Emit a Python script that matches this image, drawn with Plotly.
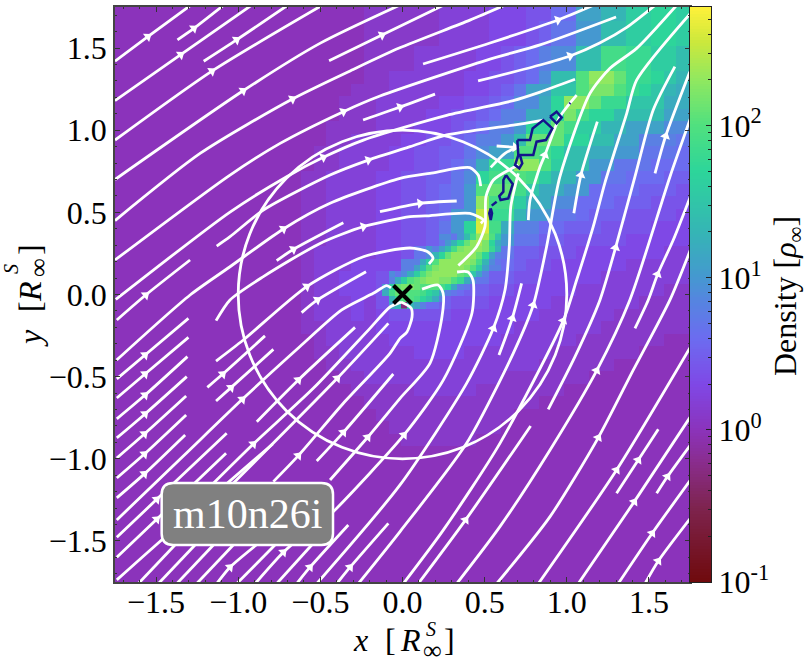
import math
import numpy as np
import plotly.graph_objects as go

W, H = 810, 665
AX_L, AX_R, AX_T, AX_B = 115, 690, 7, 582
CB_R = 711
XY_RANGE = [-1.75, 1.75]
LOG_MIN, LOG_MAX = -1.0, 2.78

# log10(density) colour ramp
RAMP = [(-1.0, "#6f0a0c"), (-0.5, "#7e2450"), (-0.2, "#8a2d90"), (0.0, "#8b33bb"), (0.3, "#7f48e6"),
        (0.6, "#6c6cf0"), (0.85, "#5585e0"), (1.0, "#4598d0"), (1.3, "#35b5b5"), (1.7, "#2dd59a"),
        (2.0, "#50e07f"), (2.3, "#90e860"), (2.55, "#cce83c"), (2.78, "#fff13a")]

# Density cells, one character per cell: base-36 digit = 10*log10(rho); '.' = empty; '-' = under-dense
CELL = 0.0761
GRID_X0, GRID_Y0 = -1.759, 1.817
DENSITY_ROWS = [
    "0000000000 0000000000 1111112222 3334466bbd dgghhgg",
    "0000000000 0000000000 1111112222 3334466bbd dgghhgg",
    "0000000000 0000000000 1111112222 3334577aae egghhgg",
    "0000000000 0000000000 1111112222 3334577aae egghhgg",
    "0000000000 0000000000 1111222223 3456899eej jiiggee",
    "0000000000 0000000000 1111222223 3456899eej jiiggee",
    "0000000000 0000000000 1122222233 44569eeknn liihfdd",
    "0000000000 0000000001 1122222233 457bbffkmm kihfdcc",
    "0000000000 0000000011 1222223344 5699chnnli ifffccb",
    "0000000000 0000000011 1222233445 688cchmjhh eeeebbb",
    "0000000000 0000000111 1222333456 88ahhljggd dbbb999",
    "0000000000 0000000112 2223344568 8aelllhhee bb88877",
    "0000000000 0000001122 2233445579 bbkkjheecc aa77766",
    "0000000000 0000001122 223344568c iinnkgeeaa 7776665",
    "0000000000 0000011222 233445579h jkkjgddaa7 7666555",
    "0000000000 0000011222 23344567ak lljfccaa66 6655544",
    "0000000000 0000011222 23344567an jjgcc99666 5554444",
    "0000000000 0000011222 2334456aap iidaa77655 5444433",
    "0000000000 0000011222 2334457ahq jc88665554 4443333",
    "0000000000 0000011222 2334459dmn da77554444 4333333",
    "0000000000 0000012222 23347aelni a755444333 3333222",
    "0000000000 0000012223 3338cknmme 8654433333 3222222",
    "0000000000 0000012233 349jmnlgc7 5544333332 2222221",
    "0000000000 0000012233 34ekjf8655 4433333222 2222111",
    "0000000000 0000012223 24dfb65444 3333322222 2211111",
    "0000000000 0000012223 2344444333 3333222222 1111111",
    "0000000000 0000011222 2333333333 3322222221 1111110",
    "0000000000 0000001222 2233333333 3222222111 1111000",
    "0000000000 0000001122 2222333322 2222211111 1100000",
    "0000000000 0000000112 2222222222 2222111111 0000000",
    "0000000000 0000000011 2222222222 2111111100 0000000",
    "0000000000 0000000001 1111222221 1111110000 0000000",
    "0000000000 0000000000 1111111111 1111000000 0000000",
    "0000000000 0000000000 0111111111 1100000000 0000000",
    "0000000000 0000000000 0011111111 1000000000 0000000",
    "0000000000 0000000000 0001111110 0000000000 0000000",
    "0000000000 0000000000 0000000000 0000000000 0000000",
    "0000000000 0000000000 0000000000 0000000000 0000000",
    "0000000000 0000000000 0000000000 0000000000 0000000",
    "0000000000 0000000000 0000000000 0000000000 0000000",
    "0000000000 0000000000 0000000000 0000000000 0000000",
    "0000000000 0000000000 0000000000 0000000000 0000000",
    "0000000000 0000000000 0000000000 0000000000 0000000",
    "0000000000 0000000000 0000000000 0000000000 0000000",
    "0000000000 0000000000 0000000000 0000000000 0000000",
    "0000000000 0000000000 0000000000 0000000000 0000000",
    "0000000000 0000000000 0000000000 0000000000 0000000",
]
# Finer cells along the inner ridge (half the cell size)
FINE_COL0, FINE_ROW0 = 21, 19
FINE_ROWS = [
    "............7aejnokf",
    "..........7adhlnomhc",
    ".........8bejmnnnmid",
    ".......79dhlnnnnlhb8",
    "......8cgknnnnnmjd97",
    ".....8bfkmnnnnmkgb8.",
    "...79cgkmnnnnlkfb8..",
    "..8cgklmnnmmkic97...",
    ".aglmmlkkkjhc87.....",
    ".cjlkkkjhfb87.......",
    "..dikkjhfc8.........",
    "..bd-db8............",
]

# Streamlines: (arrow vertex or None, [(x, y), ...]) in units of R_inf^S
STREAMS = [
    (1, [(-1.75, 1.42), (-1.55, 1.57), (-1.29, 1.76)]),
    (1, [(-1.37, 1.55), (-1.27, 1.62), (-1.09, 1.76)]),
    (1, [(-1.75, 1.18), (-1.35, 1.46), (-0.92, 1.76)]),
    (1, [(-1.21, 1.42), (-1.01, 1.55), (-0.70, 1.76)]),
    (1, [(-1.75, 0.94), (-1.16, 1.36), (-0.49, 1.76)]),
    (1, [(-1.75, 0.70), (-0.97, 1.24), (-0.50, 1.53), (-0.02, 1.76)]),
    (2, [(-1.75, 0.45), (-1.23, 0.86), (-0.67, 1.19), (-0.30, 1.37), (-0.02, 1.50), (0.41, 1.67), (0.62, 1.76)]),
    (1, [(-0.447, 1.423), (-0.125, 1.579), (0.247, 1.76)]),
    (3, [(-1.75, 0.21), (-1.05, 0.727), (-0.745, 0.92), (-0.36, 1.113), (-0.137, 1.208), (0.514, 1.427), (0.837, 1.519), (1.30, 1.689)]),
    (1, [(-0.24, 1.062), (-0.015, 1.141), (0.198, 1.22)]),
    (2, [(0.125, 1.403), (0.533, 1.531), (0.946, 1.671), (1.16, 1.76)]),
    (2, [(0.46, 1.30), (0.837, 1.397), (1.02, 1.452), (1.20, 1.531), (1.367, 1.628), (1.537, 1.76)]),
    (3, [(-1.745, -0.03), (-1.05, 0.502), (-0.705, 0.717), (-0.482, 0.835), (-0.238, 0.94), (0.269, 1.09), (0.674, 1.18), (0.837, 1.232), (1.05, 1.31)]),
    (4, [(-1.131, 0.295), (-1.05, 0.352), (-0.847, 0.514), (-0.441, 0.727), (-0.208, 0.818), (0.046, 0.90), (0.269, 0.971), (0.674, 1.031), (0.857, 1.062)]),
    (3, [(-1.74, -0.399), (-1.293, -0.003), (-1.05, 0.169), (-0.725, 0.399), (-0.441, 0.555), (-0.015, 0.707), (0.167, 0.738), (0.41, 0.772), (0.461, 0.727), (0.476, 0.66)]),
    (4, [(-1.135, -0.159), (-1.05, -0.033), (-0.847, 0.109), (-0.502, 0.311), (-0.238, 0.413), (0.046, 0.474), (0.137, 0.478), (0.41, 0.494), (0.492, 0.453), (0.477, 0.433)]),
    (1, [(-0.137, 0.504), (0.106, 0.555), (0.33, 0.569)]),
    (2, [(-1.135, -0.405), (-0.969, -0.277), (-0.583, 0.048), (-0.238, 0.23), (0.046, 0.283), (0.155, 0.259), (0.186, 0.222), (0.161, 0.186)]),
    (1, [(-0.766, 0.206), (-0.664, 0.275), (-0.36, 0.437)]),
    (1, [(-0.614, -0.11), (-0.518, -0.033), (-0.222, 0.139)]),
    (2, [(-1.739, -1.372), (-1.334, -0.983), (-0.975, -0.638), (-0.624, -0.317), (-0.37, -0.094), (-0.178, 0.007), (-0.096, 0.054), (-0.07, 0.04)]),
    (1, [(-0.887, -0.774), (-0.634, -0.52), (-0.289, -0.2)]),
    (None, [(-1.739, -1.737), (-1.466, -1.494), (-0.79, -0.91)]),
    (1, [(-1.739, -1.478), (-1.496, -1.247), (-1.07, -0.845)]),
    (1, [(-1.739, -1.599), (-1.496, -1.368), (-1.074, -0.967)]),
    (1, [(-1.739, -0.514), (-1.567, -0.368), (-1.303, -0.145)]),
    (1, [(-1.739, -0.63), (-1.567, -0.484), (-1.303, -0.261)]),
    (1, [(-1.739, -0.757), (-1.567, -0.612), (-1.309, -0.378)]),
    (1, [(-1.739, -0.873), (-1.567, -0.727), (-1.313, -0.50)]),
    (1, [(-1.739, -0.995), (-1.571, -0.849), (-1.317, -0.618)]),
    (1, [(-1.739, -1.117), (-1.571, -0.971), (-1.317, -0.733)]),
    (1, [(-1.739, -1.238), (-1.571, -1.092), (-1.323, -0.855)]),
    (1, [(-1.739, -0.155), (-1.563, -0.003), (-1.293, 0.21)]),
    (1, [(-1.188, -0.565), (-1.094, -0.484), (-0.837, -0.252)]),
    (1, [(-1.135, -0.648), (-1.044, -0.567), (-0.786, -0.334)]),
    (1, [(-0.644, -1.76), (-0.563, -1.66), (-0.33, -1.403)]),
    (1, [(-0.40, -1.76), (-0.319, -1.66), (-0.086, -1.393)]),
    (None, [(-1.608, -1.76), (-1.375, -1.514)]),
    (None, [(-1.486, -1.76), (-1.253, -1.514)]),
    (None, [(-1.374, -1.76), (-1.141, -1.514)]),
    (None, [(-1.253, -1.76), (-1.02, -1.514)]),
    (1, [(-1.131, -1.76), (-1.05, -1.66), (-0.877, -1.514)]),
    (None, [(-1.009, -1.76), (-0.766, -1.514)]),
    (1, [(-0.897, -1.76), (-0.725, -1.569), (-0.522, -1.393)]),
    (None, [(-0.766, -1.76), (-0.543, -1.514)]),
    (1, [(-1.05, -1.169), (-0.397, -0.51), (-0.086, -0.176)]),
    (1, [(-0.786, -1.139), (-0.634, -0.981), (-0.36, -0.662), (-0.076, -0.358), (-0.015, -0.267), (0.027, -0.228), (0.058, -0.137), (0.052, -0.082), (-0.009, -0.046)]),
    (1, [(-1.151, -1.149), (-0.908, -0.91), (-0.543, -0.571), (-0.198, -0.206), (-0.076, -0.076), (-0.009, -0.046)]),
    (1, [(-0.522, -1.013), (-0.36, -0.839), (-0.056, -0.484)]),
    (1, [(-0.441, -1.129), (-0.212, -0.869), (-0.015, -0.632), (0.167, -0.419), (0.24, -0.137), (0.247, 0.009), (0.216, 0.058), (0.119, 0.033)]),
    (2, [(-0.624, -1.514), (-0.41, -1.311), (0.009, -0.855), (0.249, -0.52), (0.423, -0.113), (0.429, 0.088), (0.399, 0.137), (0.332, 0.137)]),
    (3, [(-0.522, -1.76), (-0.015, -1.159), (0.39, -0.541), (0.553, -0.206), (0.624, 0.027), (0.65, 0.291), (0.659, 0.534), (0.705, 0.737)]),
    (1, [(0.587, -0.368), (0.668, -0.145), (0.725, 0.068)]),
    (4, [(-0.269, -1.76), (-0.015, -1.443), (0.39, -0.906), (0.674, -0.358), (0.796, -0.064), (0.877, 0.291), (0.958, 0.717), (1.141, 1.224), (1.263, 1.377), (1.425, 1.498), (1.668, 1.76)]),
    (3, [(0.766, 0.453), (0.776, 0.575), (0.837, 0.778), (0.867, 0.849), (0.958, 1.082), (1.06, 1.214)]),
    (3, [(0.005, -1.76), (0.249, -1.433), (0.593, -0.906), (0.979, -0.159), (1.06, 0.088), (1.161, 0.413), (1.232, 0.68), (1.365, 1.103), (1.425, 1.305), (1.76, 1.72)]),
    (3, [(0.887, -0.699), (1.05, -0.378), (1.202, -0.033), (1.297, 0.285), (1.415, 0.717), (1.526, 1.123), (1.658, 1.387)]),
    (3, [(0.33, -1.76), (0.593, -1.413), (0.898, -0.946), (1.182, -0.463), (1.384, -0.033), (1.628, 0.717), (1.76, 1.092)]),
    (2, [(1.415, -0.206), (1.496, -0.033), (1.553, 0.123), (1.648, 0.332), (1.76, 0.616)]),
    (2, [(0.573, -1.76), (0.898, -1.352), (1.192, -0.871), (1.405, -0.459), (1.628, -0.033), (1.76, 0.291)]),
    (1, [(0.827, -1.76), (1.303, -1.068), (1.76, -0.307)]),
    (1, [(1.303, -1.21), (1.435, -1.007), (1.557, -0.82)]),
    (1, [(1.547, -1.21), (1.613, -1.108), (1.76, -0.906)]),
    (1, [(1.07, -1.76), (1.411, -1.261), (1.76, -0.733)]),
    (1, [(1.313, -1.76), (1.52, -1.453), (1.76, -1.119)]),
    (1, [(1.476, -1.76), (1.557, -1.622), (1.76, -1.352)]),
    (1, [(0.096, -1.76), (0.384, -1.372), (0.78, -0.80)]),
    (1, [(1.043, 0.494), (1.086, 0.727), (1.186, 1.052)]),
    (1, [(1.537, 0.737), (1.602, 0.965), (1.749, 1.356)]),
    (None, [(0.34, 0.176), (0.451, 0.291), (0.502, 0.413), (0.508, 0.596), (0.553, 0.697), (0.705, 0.788)]),
    (None, [(0.537, 0.774), (0.624, 0.859), (0.695, 0.896)]),
    (1, [(0.573, 0.904), (0.685, 0.896)]),
]

# High-density contours
CONTOURS = [
    [(0.699, 0.94), (0.776, 0.94), (0.792, 1.011), (0.857, 1.062), (0.912, 1.011), (0.873, 0.94), (0.816, 0.93), (0.796, 0.849), (0.705, 0.849), (0.699, 0.94)],
    [(0.705, 0.849), (0.685, 0.788), (0.711, 0.768), (0.729, 0.798), (0.715, 0.849)],
    [(0.898, 1.082), (0.938, 1.113), (0.969, 1.078), (0.938, 1.042), (0.898, 1.082)],
    [(0.63, 0.727), (0.671, 0.672), (0.644, 0.585), (0.597, 0.575), (0.589, 0.599), (0.614, 0.626), (0.614, 0.697), (0.63, 0.727)],
    [(0.573, 0.565), (0.543, 0.541)],
    [(0.537, 0.524), (0.528, 0.494), (0.537, 0.453), (0.545, 0.494), (0.537, 0.524)],
    [(1.016, 1.16), (1.022, 1.166)],
]
BH_X, BH_Y = [0.0], [0.0]
SONIC_RADIUS = 1.0
LABEL = "m10n26i"
LABEL_BOX = (-1.466, -0.423, -1.525, -1.147)
TICKS = [-1.5, -1.0, -0.5, 0.0, 0.5, 1.0, 1.5]
CB_TICKS = [-1, 0, 1, 2]
CB_TEXT = ["10<sup>-1</sup>", "10<sup>0</sup>", "10<sup>1</sup>", "10<sup>2</sup>"]


def decode(row):
    out = []
    for c in row.replace(" ", ""):
        if c == ".":
            out.append(None)
        elif c == "-":
            out.append(-0.3)
        else:
            out.append(int(c, 36) * 0.1)
    return out


def px(x):
    return x / W


def py(y):
    return 1 - y / H


colorscale = [[(v - LOG_MIN) / (LOG_MAX - LOG_MIN), c] for v, c in RAMP]
cmap = dict(colorscale=colorscale, zmin=LOG_MIN, zmax=LOG_MAX, showscale=False, hoverinfo="skip")

fig = go.Figure()
z = [decode(r) for r in DENSITY_ROWS]
fig.add_trace(go.Heatmap(z=z,
                         x=[GRID_X0 + CELL * (i + 0.5) for i in range(len(z[0]))],
                         y=[GRID_Y0 - CELL * (j + 0.5) for j in range(len(z))], **cmap))
zf = [decode(r) for r in FINE_ROWS]
fig.add_trace(go.Heatmap(z=zf,
                         x=[GRID_X0 + CELL * FINE_COL0 + CELL / 2 * (i + 0.5) for i in range(len(zf[0]))],
                         y=[GRID_Y0 - CELL * FINE_ROW0 - CELL / 2 * (j + 0.5) for j in range(len(zf))], **cmap))

sx, sy, ax, ay, aa = [], [], [], [], []
for idx, pts in STREAMS:
    sx += [p[0] for p in pts] + [None]
    sy += [p[1] for p in pts] + [None]
    if idx is not None:
        a, b = pts[max(idx - 1, 0)], pts[min(idx + 1, len(pts) - 1)]
        ax.append(pts[idx][0])
        ay.append(pts[idx][1])
        aa.append(math.degrees(math.atan2(b[0] - a[0], b[1] - a[1])))
fig.add_trace(go.Scatter(x=sx, y=sy, mode="lines", hoverinfo="skip",
                         line=dict(color="white", width=2.8, shape="spline", smoothing=0.7)))
fig.add_trace(go.Scatter(x=ax, y=ay, mode="markers", hoverinfo="skip",
                         marker=dict(symbol="triangle-up", size=9, color="white", angle=aa)))
cx, cy = [], []
for c in CONTOURS:
    cx += [p[0] for p in c] + [None]
    cy += [p[1] for p in c] + [None]
fig.add_trace(go.Scatter(x=cx, y=cy, mode="lines", hoverinfo="skip", line=dict(color="#14148c", width=2.5)))
fig.add_trace(go.Scatter(x=BH_X, y=BH_Y, mode="markers", hoverinfo="skip",
                         marker=dict(symbol="x-thin", size=18, line=dict(color="black", width=4))))

# Colour bar drawn on its own axes so that it can carry log minor ticks
cb_levels = np.linspace(LOG_MIN, LOG_MAX, 200)
fig.add_trace(go.Heatmap(z=[[v] for v in cb_levels], x=[0], y=cb_levels, xaxis="x2", yaxis="y2", **cmap))
minor_vals = [k + math.log10(m) for k in range(-1, 3) for m in range(2, 10)]
minor_vals = [v for v in minor_vals if v < LOG_MAX]

SERIF = "Liberation Serif"
axis_common = dict(range=XY_RANGE, showgrid=False, zeroline=False, showline=True, linecolor="#444444",
                   linewidth=1.5, mirror="ticks", ticks="inside", ticklen=5, tickwidth=1, tickcolor="#333333",
                   tickvals=TICKS, tickformat=".1f", tickfont=dict(family=SERIF, size=32, color="black"),
                   minor=dict(ticks="inside", ticklen=2.5, dtick=0.1, tick0=0, tickwidth=1, tickcolor="#333333", showgrid=False))


def note(text, x, y, size=32, angle=0):
    return dict(text=text, x=px(x), y=py(y), xref="paper", yref="paper", showarrow=False, xanchor="center",
                yanchor="middle", textangle=angle, font=dict(family=SERIF, size=size, color="black"))


annotations = [
    note("<i>x</i>", 360, 640), note("[", 390, 640), note("<i>R</i>", 410, 640),
    note("<i>S</i>", 431, 629, 20), note("∞", 432, 650, 26), note("]", 449, 640),
    note("<i>y</i>", 30, 338, angle=-90), note("[", 30, 307, angle=-90), note("<i>R</i>", 30, 292, angle=-90),
    note("<i>S</i>", 11, 269, 20, -90), note("∞", 38, 268, 26, -90), note("]", 30, 250, angle=-90),
    note("Density [<i>ρ</i><sub>∞</sub>]", 787, 296, 32, -90),
    dict(text=LABEL, x=(LABEL_BOX[0] + LABEL_BOX[1]) / 2, y=(LABEL_BOX[2] + LABEL_BOX[3]) / 2, showarrow=False,
         xanchor="center", yanchor="middle", font=dict(family=SERIF, size=42, color="white")),
]

x0, x1, y0, y1 = LABEL_BOX
r = 0.07
box = (f"M {x0 + r} {y0} L {x1 - r} {y0} Q {x1} {y0} {x1} {y0 + r} L {x1} {y1 - r} Q {x1} {y1} {x1 - r} {y1} "
       f"L {x0 + r} {y1} Q {x0} {y1} {x0} {y1 - r} L {x0} {y0 + r} Q {x0} {y0} {x0 + r} {y0} Z")
shapes = [
    dict(type="circle", x0=-SONIC_RADIUS, x1=SONIC_RADIUS, y0=-SONIC_RADIUS, y1=SONIC_RADIUS,
         xref="x", yref="y", line=dict(color="white", width=2.8)),
    dict(type="path", path=box, xref="x", yref="y", fillcolor="#808080", line=dict(color="white", width=2.5)),
]

fig.update_layout(
    width=W, height=H, margin=dict(l=0, r=0, t=0, b=0, autoexpand=False), paper_bgcolor="white", plot_bgcolor="white",
    showlegend=False, annotations=annotations, shapes=shapes,
    xaxis=dict(domain=[px(AX_L), px(AX_R)], anchor="y", ticklabelstandoff=-9, **axis_common),
    yaxis=dict(domain=[py(AX_B), py(AX_T)], anchor="x", **axis_common),
    xaxis2=dict(domain=[px(AX_R), px(CB_R)], anchor="y2", range=[-0.5, 0.5], showticklabels=False, ticks="",
                showgrid=False, zeroline=False, showline=True, linecolor="#222222", linewidth=1.2, mirror=True),
    yaxis2=dict(domain=[py(AX_B), py(AX_T)], anchor="x2", side="right", range=[LOG_MIN, LOG_MAX], showgrid=False,
                zeroline=False, showline=True, linecolor="#222222", linewidth=1.2, mirror=True,
                tickvals=CB_TICKS, ticktext=CB_TEXT, ticks="inside", ticklen=5, tickwidth=1, tickcolor="#222222",
                tickfont=dict(family=SERIF, size=32, color="black"),
                minor=dict(tickvals=minor_vals, ticks="inside", ticklen=2.5, tickwidth=1, tickcolor="#222222", showgrid=False)),
)
fig.write_html("out.html", post_script="document.body.style.margin='0';", config=dict(displayModeBar=False))
